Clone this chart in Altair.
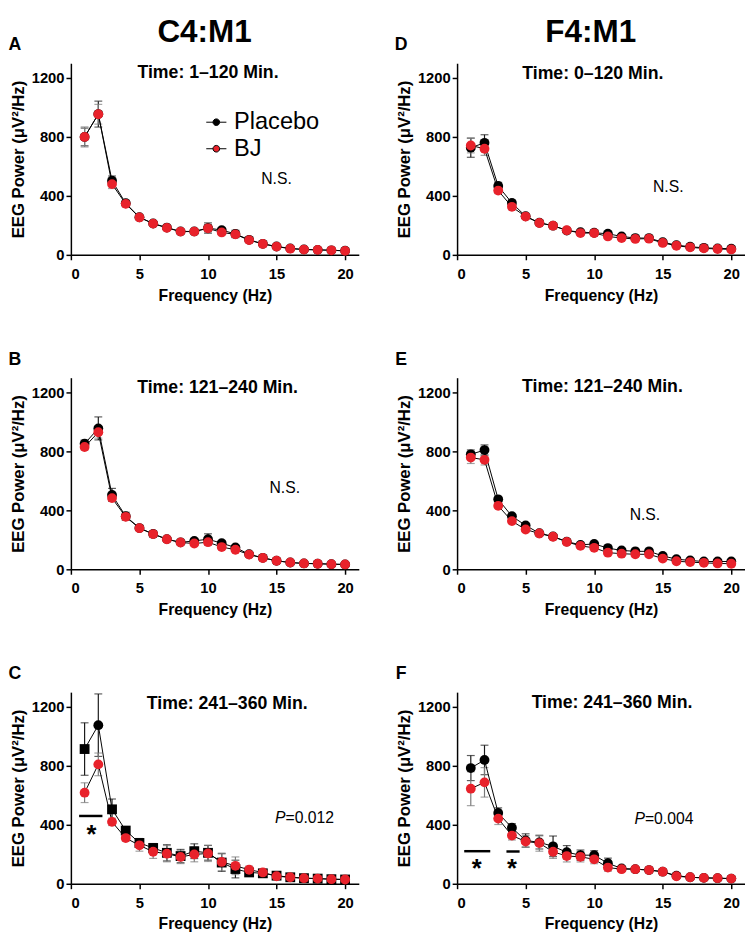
import altair as alt
import pandas as pd

FONT = "Liberation Sans"
RED = "#e8222b"

FREQ = list(range(1, 21))
GROUPS = ["Placebo", "BJ"]
X_TICKS = [0, 5, 10, 15, 20]
Y_TICKS = [0, 400, 800, 1200]

# ---- C4:M1, 1-120 min (A)
a_placebo = [800, 955, 503, 350, 255, 213, 185, 159, 159, 182, 168, 142, 102, 75, 57, 44, 37, 34, 31, 28]
a_placebo_sem = [60, 88, 32, 20, 12, 10, 8, 10, 10, 35, 15, 25, 10, 6, 5, 4, 3, 3, 3, 3]
a_bj = [800, 954, 480, 346, 254, 212, 183, 158, 158, 180, 152, 139, 100, 74, 56, 42, 36, 34, 31, 27]
a_bj_sem = [68, 67, 30, 20, 12, 10, 8, 8, 8, 25, 12, 20, 10, 6, 5, 4, 3, 3, 3, 3]

# ---- C4:M1, 121-240 min (B)
b_placebo = [852, 956, 505, 360, 280, 240, 205, 183, 193, 204, 177, 148, 102, 78, 58, 46, 40, 38, 35, 33]
b_placebo_sem = [25, 78, 44, 27, 15, 20, 12, 10, 15, 37, 15, 12, 8, 6, 5, 4, 3, 3, 3, 3]
b_bj = [830, 930, 483, 356, 279, 239, 204, 182, 175, 184, 151, 133, 100, 77, 58, 46, 40, 38, 35, 33]
b_bj_sem = [20, 40, 20, 20, 12, 18, 10, 10, 12, 20, 12, 10, 8, 6, 5, 4, 3, 3, 3, 3]

# ---- C4:M1, 241-360 min (C)
c_placebo = [914, 1076, 505, 361, 277, 243, 210, 188, 221, 210, 144, 100, 77, 71, 55, 44, 38, 35, 31, 29]
c_placebo_sem = [178, 212, 70, 25, 30, 30, 55, 45, 50, 50, 60, 60, 25, 15, 10, 8, 6, 6, 5, 5]
c_placebo_shape = ["square", "circle"] + ["square"] * 18
c_bj = [618, 810, 420, 310, 261, 217, 204, 182, 199, 206, 148, 122, 95, 77, 51, 44, 38, 35, 31, 29]
c_bj_sem = [67, 77, 25, 20, 40, 45, 55, 45, 50, 55, 60, 60, 25, 15, 10, 8, 6, 6, 5, 5]

# ---- F4:M1, 0-120 min (D)
d_placebo = [727, 760, 467, 352, 262, 218, 198, 165, 154, 150, 143, 125, 114, 114, 86, 66, 55, 48, 44, 42]
d_placebo_sem = [65, 55, 25, 20, 12, 10, 8, 8, 8, 8, 8, 6, 6, 6, 5, 5, 4, 4, 4, 4]
d_bj = [742, 720, 436, 326, 260, 216, 198, 167, 148, 148, 125, 114, 108, 110, 81, 62, 51, 44, 40, 37]
d_bj_sem = [50, 45, 20, 20, 12, 10, 8, 8, 8, 8, 8, 6, 6, 6, 5, 5, 4, 4, 4, 4]

# ---- F4:M1, 121-240 min (E)
e_placebo = [780, 809, 475, 360, 298, 245, 223, 188, 166, 172, 144, 128, 122, 122, 91, 69, 60, 53, 53, 53]
e_placebo_sem = [30, 35, 15, 12, 10, 10, 8, 8, 8, 8, 8, 6, 6, 6, 5, 5, 4, 4, 4, 4]
e_bj = [758, 743, 431, 327, 270, 243, 221, 186, 159, 146, 113, 106, 102, 102, 73, 55, 49, 44, 40, 38]
e_bj_sem = [40, 35, 15, 12, 10, 10, 8, 8, 8, 8, 8, 6, 6, 6, 5, 5, 4, 4, 4, 4]

# ---- F4:M1, 241-360 min (F)
f_placebo = [785, 840, 480, 380, 294, 281, 254, 214, 194, 194, 139, 104, 99, 93, 82, 55, 44, 40, 38, 35]
f_placebo_sem = [85, 100, 35, 28, 45, 45, 70, 45, 35, 30, 35, 15, 10, 8, 8, 6, 5, 5, 4, 4]
f_bj = [645, 688, 442, 327, 287, 276, 217, 188, 183, 166, 110, 99, 99, 93, 82, 51, 44, 40, 38, 35]
f_bj_sem = [115, 100, 40, 30, 40, 55, 45, 40, 35, 30, 25, 15, 10, 8, 8, 6, 5, 5, 4, 4]

# annotation anchors (data coordinates)
PANELS = {
    "A": dict(sub="Time: 1\u2013120 Min.", sub_at=(10.0, 1235), p=a_placebo, ps=a_placebo_sem, b=a_bj, bs=a_bj_sem,
              ns_at=(15.0, 514), pval=None, bars=[], stars=[]),
    "B": dict(sub="Time: 121\u2013240 Min.", sub_at=(10.7, 1230), p=b_placebo, ps=b_placebo_sem, b=b_bj, bs=b_bj_sem,
              ns_at=(15.6, 549), pval=None, bars=[], stars=[]),
    "C": dict(sub="Time: 241\u2013360 Min.", sub_at=(11.4, 1218), p=c_placebo, ps=c_placebo_sem, b=c_bj, bs=c_bj_sem,
              shapes=c_placebo_shape, ns_at=None, pval=("=0.012", 15.65, 443),
              bars=[(0.6, 2.3, 460)], stars=[(1.5, 376)]),
    "D": dict(sub="Time: 0\u2013120 Min.", sub_at=(9.9, 1226), p=d_placebo, ps=d_placebo_sem, b=d_bj, bs=d_bj_sem,
              ns_at=(15.4, 462), pval=None, bars=[], stars=[]),
    "E": dict(sub="Time: 121\u2013240 Min.", sub_at=(10.6, 1233), p=e_placebo, ps=e_placebo_sem, b=e_bj, bs=e_bj_sem,
              ns_at=(13.7, 371), pval=None, bars=[], stars=[]),
    "F": dict(sub="Time: 241\u2013360 Min.", sub_at=(11.3, 1226), p=f_placebo, ps=f_placebo_sem, b=f_bj, bs=f_bj_sem,
              ns_at=None, pval=("=0.004", 13.7, 442),
              bars=[(0.52, 2.42, 221), (3.6, 4.56, 219)], stars=[(1.43, 144), (4.0, 144)]),
}
HEADS = {"A": "C4:M1", "D": "F4:M1"}

W, H = 293, 195
XS = alt.Scale(domain=[0, 21], nice=False)
YS = alt.Scale(domain=[0, 1300], nice=False)
X_AX = alt.Axis(values=X_TICKS, title="Frequency (Hz)", format="d")
Y_AX = alt.Axis(values=Y_TICKS, title="EEG Power (\u03bcV\u00b2/Hz)", format="d")

LEGEND_PATH = ("M-1,0L-0.33,0M0.33,0L1,0"
               "M0.33,0A0.33,0.33,0,1,1,-0.33,0A0.33,0.33,0,1,1,0.33,0Z")


def X(field="freq"):
    return alt.X(f"{field}:Q", scale=XS, axis=X_AX)


def Y(field="value"):
    return alt.Y(f"{field}:Q", scale=YS, axis=Y_AX)


def panel(letter, legend=False):
    p = PANELS[letter]
    shapes = p.get("shapes", ["circle"] * 20)
    rows = []
    for g, vals, sems, shp in [("Placebo", p["p"], p["ps"], shapes), ("BJ", p["b"], p["bs"], ["circle"] * 20)]:
        for f, v, s, sh in zip(FREQ, vals, sems, shp):
            rows.append(dict(freq=f, group=g, value=v, lo=v - s, hi=v + s, shape=sh))
    df = pd.DataFrame(rows)
    base = alt.Chart(df)
    layers = []
    for g, col in [("Placebo", "#1a1a1a"), ("BJ", "#7a7a7a")]:
        sub = base.transform_filter(alt.datum.group == g)
        layers.append(sub.mark_rule(color=col, strokeWidth=1.2).encode(x=X(), y=Y("lo"), y2="hi:Q"))
        layers.append(sub.mark_tick(color=col, orient="horizontal", size=8, thickness=1.2).encode(x=X(), y=Y("lo")))
        layers.append(sub.mark_tick(color=col, orient="horizontal", size=8, thickness=1.2).encode(x=X(), y=Y("hi")))
    layers.append(base.mark_line(color="black", strokeWidth=1).encode(x=X(), y=Y(), detail="group:N"))
    if legend:
        leg = alt.Legend(orient="none", legendX=136, legendY=48, title=None, labelFont=FONT, labelFontSize=24,
                         labelColor="black", symbolType=LEGEND_PATH, symbolSize=420, symbolStrokeColor="black",
                         symbolStrokeWidth=1, rowPadding=3, labelOffset=6)
    else:
        leg = None
    layers.append(base.mark_point(filled=True, size=100, opacity=1).encode(
        x=X(), y=Y(),
        color=alt.Color("group:N", scale=alt.Scale(domain=GROUPS, range=["black", RED]), legend=leg),
        shape=alt.Shape("shape:N", scale=alt.Scale(domain=["circle", "square"], range=["circle", "square"]), legend=None),
    ))
    # subtitle inside the plot
    sx, sy = p["sub_at"]
    layers.append(alt.Chart(pd.DataFrame([dict(freq=sx, value=sy, t=p["sub"])])).mark_text(
        font=FONT, fontSize=18, fontWeight="bold", color="black", align="center", baseline="middle"
    ).encode(x=X(), y=Y(), text="t:N"))
    if p["ns_at"]:
        nx, ny = p["ns_at"]
        layers.append(alt.Chart(pd.DataFrame([dict(freq=nx, value=ny, t="N.S.")])).mark_text(
            font=FONT, fontSize=16, color="black", align="center", baseline="middle"
        ).encode(x=X(), y=Y(), text="t:N"))
    if p["pval"]:
        t, px, py = p["pval"]
        pdf = pd.DataFrame([dict(freq=px, value=py, t=t, p="P")])
        layers.append(alt.Chart(pdf).mark_text(font=FONT, fontSize=16, fontStyle="italic", color="black",
                                               align="right", baseline="middle").encode(x=X(), y=Y(), text="p:N"))
        layers.append(alt.Chart(pdf).mark_text(font=FONT, fontSize=16, color="black",
                                               align="left", baseline="middle").encode(x=X(), y=Y(), text="t:N"))
    if p["bars"]:
        bdf = pd.DataFrame([dict(freq=a, freq2=b, value=v) for a, b, v in p["bars"]])
        layers.append(alt.Chart(bdf).mark_rule(color="black", strokeWidth=2.5).encode(
            x=X(), x2="freq2:Q", y=Y()))
        sdf = pd.DataFrame([dict(freq=a, value=v, t="*") for a, v in p["stars"]])
        layers.append(alt.Chart(sdf).mark_text(font=FONT, fontSize=26, fontWeight="bold", color="black",
                                               align="center", baseline="middle", dy=7).encode(x=X(), y=Y(), text="t:N"))
    # panel letter (above the plot, left of the axis)
    layers.append(alt.Chart(pd.DataFrame([dict(t=letter)])).mark_text(
        font=FONT, fontSize=18, fontWeight="bold", color="black", align="center", baseline="middle"
    ).encode(x=alt.value(-57), y=alt.value(-18), text="t:N"))
    # column heading on the top row
    if letter in HEADS:
        layers.append(alt.Chart(pd.DataFrame([dict(t=HEADS[letter])])).mark_text(
            font=FONT, fontSize=32, fontWeight="bold", color="black", align="center", baseline="alphabetic"
        ).encode(x=alt.value(136), y=alt.value(-22), text="t:N"))
    return alt.layer(*layers).properties(width=W, height=H)


def column(letters, legend_letter=None):
    return alt.vconcat(*[panel(l, legend=(l == legend_letter)) for l in letters], spacing=49).resolve_scale(
        color="independent", shape="independent").resolve_legend(color="independent")


chart = alt.hconcat(
    column(["A", "B", "C"], legend_letter="A"),
    column(["D", "E", "F"]),
    spacing=36,
).resolve_scale(color="independent", shape="independent").resolve_legend(color="independent").properties(
    padding={"left": 0, "top": 0, "right": 0, "bottom": 0}
).configure_axis(
    domainColor="black", domainWidth=1.5, tickColor="black", tickWidth=1.5, tickSize=5,
    labelFont=FONT, labelFontSize=15, labelFontWeight="bold", labelColor="black",
    titleFont=FONT, titleFontWeight="bold", titleColor="black", grid=False,
).configure_axisY(titlePadding=4, labelPadding=2, titleFontSize=17).configure_axisX(
    titlePadding=6, labelPadding=7, titleFontSize=16
).configure_view(stroke=None)

chart.save("out.html", embed_options={"renderer": "svg", "actions": False})
